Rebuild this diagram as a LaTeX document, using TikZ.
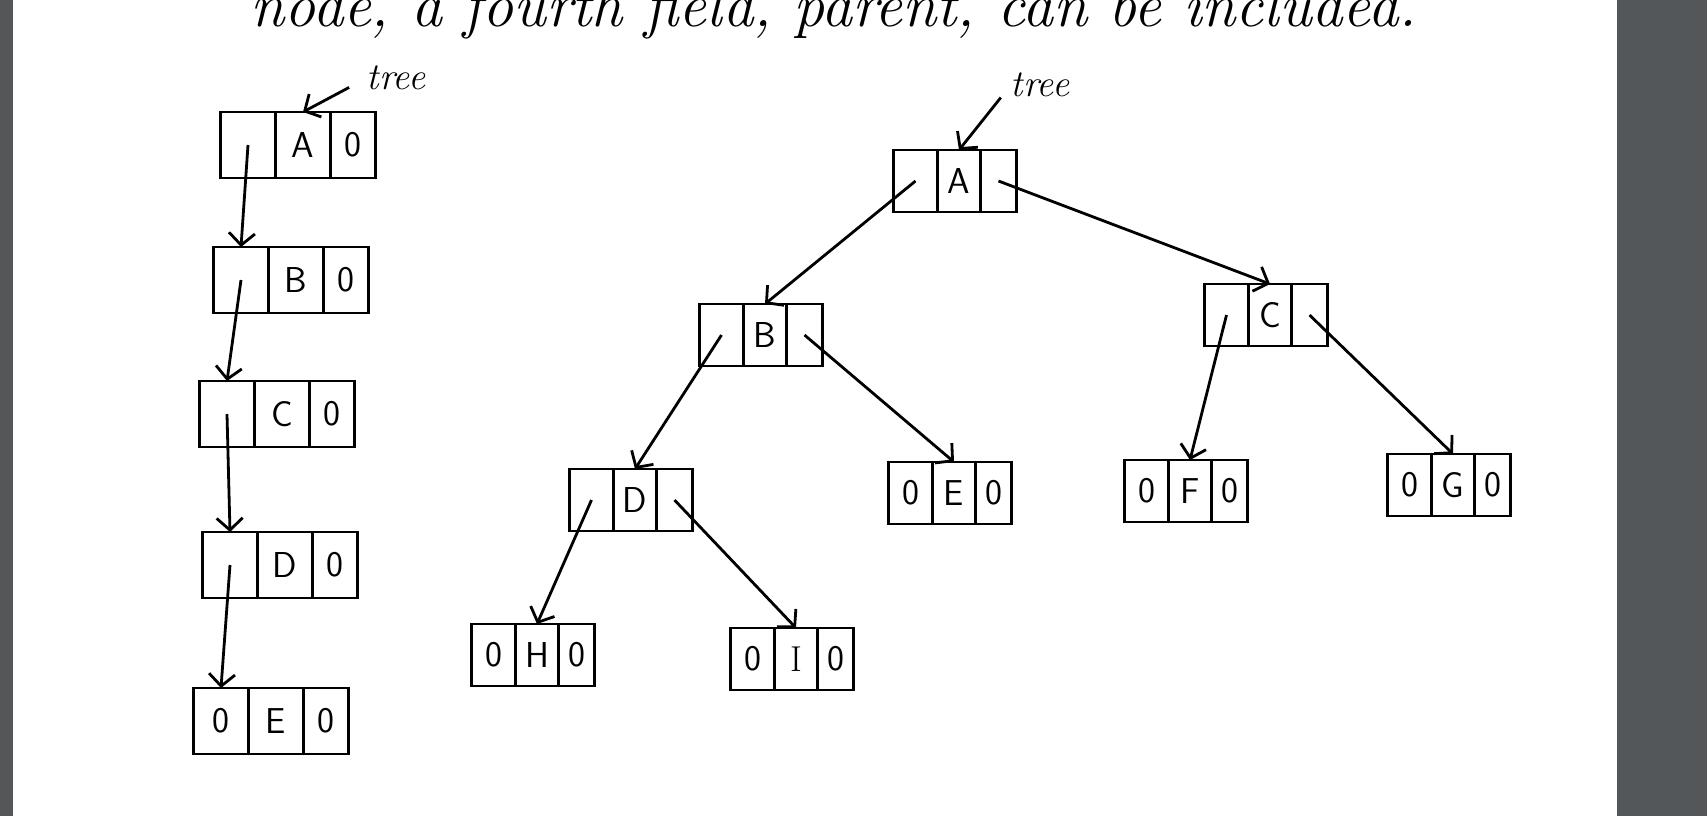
\documentclass[tikz,border=0pt]{standalone}
\usepackage{xcolor}
\usepackage{tikz}
\usetikzlibrary{arrows.meta, positioning}

\definecolor{frame}{HTML}{53575A}

\begin{document}
\begin{tikzpicture}[x=0.5pt, y=-0.5pt, >={Straight Barb[length=6pt, width=13pt]},
    every node/.style={inner sep=0pt, outer sep=0pt},
    cell/.style={rectangle, draw, line width=1.4pt, font=\sffamily\fontsize{18}{18}\selectfont},
    lptr/.style={cell, minimum width=27.5pt, minimum height=33pt},
    ldata/.style={cell, minimum width=27.5pt, minimum height=33pt},
    lnil/.style={cell, minimum width=22.5pt, minimum height=33pt},
    tptr/.style={cell, minimum width=22pt, minimum height=31pt},
    tdata/.style={cell, minimum width=21.5pt, minimum height=31pt},
    tnil/.style={cell, minimum width=18pt, minimum height=31pt},
    ptr/.style={->, line width=1.4pt},
    lbl/.style={font=\itshape\fontsize{19}{19}\selectfont},
]
\useasboundingbox (0,0) rectangle (1707,816);
\clip (0,0) rectangle (1707,816);
\fill[white] (13,0) rectangle (1617,816);
\fill[frame] (0,0) rectangle (13,816);
\fill[frame] (1617,0) rectangle (1707,816);

\node[anchor=base west, font=\itshape\fontsize{31}{33}\selectfont] (caption) at (250,26) {node, a fourth field, parent, can be included.};

% linked list on the left
\node[ldata] (lA) at (303,145) {A};
\node[lptr, left=0pt of lA] (lA-l) {};
\node[lnil, right=0pt of lA] (lA-r) {0};
\node[ldata] (lB) at (296,280) {B};
\node[lptr, left=0pt of lB] (lB-l) {};
\node[lnil, right=0pt of lB] (lB-r) {0};
\node[ldata] (lC) at (282,414) {C};
\node[lptr, left=0pt of lC] (lC-l) {};
\node[lnil, right=0pt of lC] (lC-r) {0};
\node[ldata] (lD) at (285,565) {D};
\node[lptr, left=0pt of lD] (lD-l) {};
\node[lnil, right=0pt of lD] (lD-r) {0};
\node[ldata] (lE) at (276,721) {E};
\node[lptr, left=0pt of lE] (lE-l) {0};
\node[lnil, right=0pt of lE] (lE-r) {0};

\node[lbl] (lTree) at (396,78) {tree};

\draw[ptr, shorten <=10pt] (lTree.west) -- (lA.north);
\draw[ptr] (lA-l.center) -- (lB-l.north);
\draw[ptr] (lB-l.center) -- (lC-l.north);
\draw[ptr] (lC-l.center) -- (lD-l.north);
\draw[ptr] (lD-l.center) -- (lE-l.north);

% binary tree
\node[tdata] (tA) at (959,181) {A};
\node[tptr, left=0pt of tA] (tA-l) {};
\node[tnil, right=0pt of tA] (tA-r) {};
\node[tdata] (tB) at (765,335) {B};
\node[tptr, left=0pt of tB] (tB-l) {};
\node[tnil, right=0pt of tB] (tB-r) {};
\node[tdata] (tC) at (1270,315) {C};
\node[tptr, left=0pt of tC] (tC-l) {};
\node[tnil, right=0pt of tC] (tC-r) {};
\node[tdata] (tD) at (635,500) {D};
\node[tptr, left=0pt of tD] (tD-l) {};
\node[tnil, right=0pt of tD] (tD-r) {};
\node[tdata] (tE) at (954,493) {E};
\node[tptr, left=0pt of tE] (tE-l) {0};
\node[tnil, right=0pt of tE] (tE-r) {0};
\node[tdata] (tF) at (1190,491) {F};
\node[tptr, left=0pt of tF] (tF-l) {0};
\node[tnil, right=0pt of tF] (tF-r) {0};
\node[tdata] (tG) at (1453,485) {G};
\node[tptr, left=0pt of tG] (tG-l) {0};
\node[tnil, right=0pt of tG] (tG-r) {0};
\node[tdata] (tH) at (537,655) {H};
\node[tptr, left=0pt of tH] (tH-l) {0};
\node[tnil, right=0pt of tH] (tH-r) {0};
\node[tdata] (tI) at (796,659) {\rmfamily I};
\node[tptr, left=0pt of tI] (tI-l) {0};
\node[tnil, right=0pt of tI] (tI-r) {0};

\node[lbl] (rTree) at (1040,85) {tree};

\draw[ptr, shorten <=8pt] (rTree.west) -- (tA.north);
\draw[ptr] (tA-l.center) -- (tB.north);
\draw[ptr] (tA-r.center) -- (tC.north);
\draw[ptr] (tB-l.center) -- (tD.north);
\draw[ptr] (tB-r.center) -- (tE.north);
\draw[ptr] (tC-l.center) -- (tF.north);
\draw[ptr] (tC-r.center) -- (tG.north);
\draw[ptr] (tD-l.center) -- (tH.north);
\draw[ptr] (tD-r.center) -- (tI.north);

\end{tikzpicture}
\end{document}
